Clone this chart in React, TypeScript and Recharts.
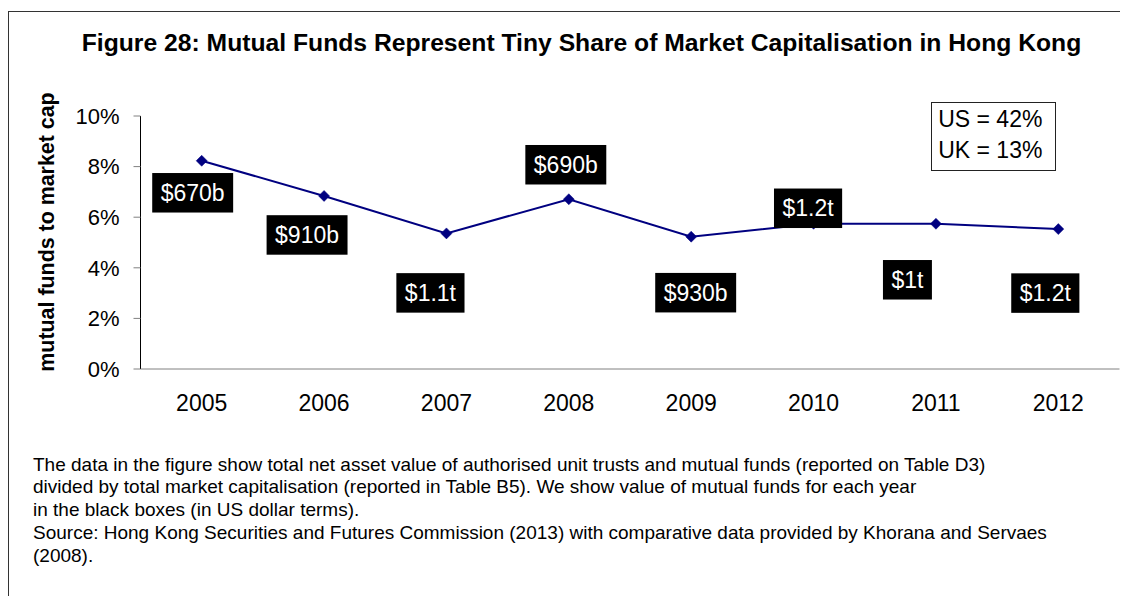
import React from 'react';
import { LineChart, Line, XAxis, YAxis, LabelList } from 'recharts';

const years = ['2005', '2006', '2007', '2008', '2009', '2010', '2011', '2012'];
const fundsToMarketCap = [0.0823, 0.0684, 0.0536, 0.0671, 0.0523, 0.0574, 0.0574, 0.0553];
const fundValueLabels = ['$670b', '$910b', '$1.1t', '$690b', '$930b', '$1.2t', '$1t', '$1.2t'];
const yTicks = [0, 0.02, 0.04, 0.06, 0.08, 0.1];
const boundaryTicks = [0, 1, 2, 3, 4, 5, 6, 7, 8];
const comparisonLines = ['US = 42%', 'UK = 13%'];
const titleText = 'Figure 28: Mutual Funds Represent Tiny Share of Market Capitalisation in Hong Kong';
const yAxisTitle = 'mutual funds to market cap';
const footnoteLines = [
  'The data in the figure show total net asset value of authorised unit trusts and mutual funds (reported on Table D3)',
  'divided by total market capitalisation (reported in Table B5). We show value of mutual funds for each year',
  'in the black boxes (in US dollar terms).',
  'Source: Hong Kong Securities and Futures Commission (2013) with comparative data provided by Khorana and Servaes',
  '(2008).',
];

// label box centre offsets relative to each point (style, not data)
const labelOffsets: [number, number][] = [
  [-9, 32], [-17, 39], [-16, 59.5], [-3, -34.5], [4.5, 56], [-5.5, -15.5], [-28.5, 56], [-13, 64],
];

const data = years.map((y, i) => ({ year: y, ratio: fundsToMarketCap[i], funds: fundValueLabels[i] }));

const FONT = "'Liberation Sans', Arial, sans-serif";
const LABEL_FONT = 23;

const charW: Record<string, number> = { '.': 0.278, t: 0.278, ' ': 0.278 };
const textWidth = (s: string, size: number) =>
  s.split('').reduce((acc, c) => acc + (charW[c] ?? 0.556), 0) * size;

const Diamond = (props: any) => {
  const { cx, cy } = props;
  if (cx == null || cy == null) return null;
  const r = 5.5;
  return (
    <polygon
      points={`${cx},${cy - r} ${cx + r},${cy} ${cx},${cy + r} ${cx - r},${cy}`}
      fill="#000080"
      stroke="#000080"
      strokeWidth={0.5}
    />
  );
};

const BoxLabel = (props: any) => {
  const { x, y, value, index } = props;
  if (x == null || y == null) return null;
  const [dx, dy] = labelOffsets[index] || [0, 0];
  const w = textWidth(String(value), LABEL_FONT) + 17;
  const h = 39.5;
  const cx = x + dx;
  const cy = y + dy;
  return (
    <g>
      <rect x={cx - w / 2} y={cy - h / 2} width={w} height={h} fill="#000" />
      <text
        x={cx}
        y={cy}
        textAnchor="middle"
        dominantBaseline="central"
        fill="#fff"
        fontSize={LABEL_FONT}
        fontFamily={FONT}
      >
        {value}
      </text>
    </g>
  );
};

export default function App() {
  return (
    <div style={{ position: 'relative', width: 1120, height: 588, overflow: 'hidden', fontFamily: FONT, color: '#000' }}>
      <div
        style={{
          position: 'absolute',
          left: 0,
          top: 3,
          width: 1300,
          height: 800,
          borderTop: '1px solid #333',
          borderLeft: '1px solid #333',
        }}
      />
      <div
        style={{
          position: 'absolute',
          left: 573.5,
          top: 35,
          transform: 'translate(-50%, -50%)',
          whiteSpace: 'nowrap',
          fontWeight: 'bold',
          fontSize: 24.7,
        }}
      >
        {titleText}
      </div>
      <div
        style={{
          position: 'absolute',
          left: 39,
          top: 224,
          transform: 'translate(-50%, -50%) rotate(-90deg)',
          whiteSpace: 'nowrap',
          fontWeight: 'bold',
          fontSize: 21.4,
        }}
      >
        {yAxisTitle}
      </div>
      <div style={{ position: 'absolute', left: 0, top: 0 }}>
        <LineChart width={1120} height={440} data={data} margin={{ top: 108, right: 8.5, left: 32.5, bottom: 39 }}>
          <XAxis
            xAxisId="b"
            type="number"
            domain={[0, 8]}
            ticks={boundaryTicks}
            interval={0}
            allowDataOverflow
            tick={false}
            tickSize={7}
            height={1}
            stroke="#808080"
          />
          <XAxis
            xAxisId="c"
            dataKey="year"
            scale="band"
            interval={0}
            axisLine={false}
            tickLine={false}
            tickSize={0}
            tickMargin={25}
            height={39}
            tick={{ fontSize: 23, fill: '#000', fontFamily: FONT }}
          />
          <YAxis
            domain={[0, 0.1]}
            ticks={yTicks}
            interval={0}
            width={100}
            tickSize={7}
            tickMargin={14}
            axisLine={{ stroke: '#000' }}
            tickLine={{ stroke: '#808080' }}
            tick={{ fontSize: 22, fill: '#000', fontFamily: FONT }}
            tickFormatter={(v: number) => `${Math.round(v * 100)}%`}
          />
          <Line
            xAxisId="c"
            dataKey="ratio"
            stroke="#000080"
            strokeWidth={2}
            dot={<Diamond />}
            activeDot={false}
            isAnimationActive={false}
          >
            <LabelList dataKey="funds" content={<BoxLabel />} />
          </Line>
        </LineChart>
      </div>
      <div
        style={{
          position: 'absolute',
          left: 922.7,
          top: 94,
          width: 125.3,
          height: 69,
          boxSizing: 'border-box',
          border: '1px solid #222',
          padding: '1px 0 0 6.5px',
          fontSize: 23,
          lineHeight: '30.7px',
          whiteSpace: 'nowrap',
        }}
      >
        {comparisonLines.map((l) => (
          <div key={l}>{l}</div>
        ))}
      </div>
      <div
        style={{
          position: 'absolute',
          left: 25,
          top: 445.5,
          fontSize: 19,
          lineHeight: '22.8px',
          whiteSpace: 'nowrap',
        }}
      >
        {footnoteLines.map((l, i) => (
          <div key={i}>{l}</div>
        ))}
      </div>
    </div>
  );
}
